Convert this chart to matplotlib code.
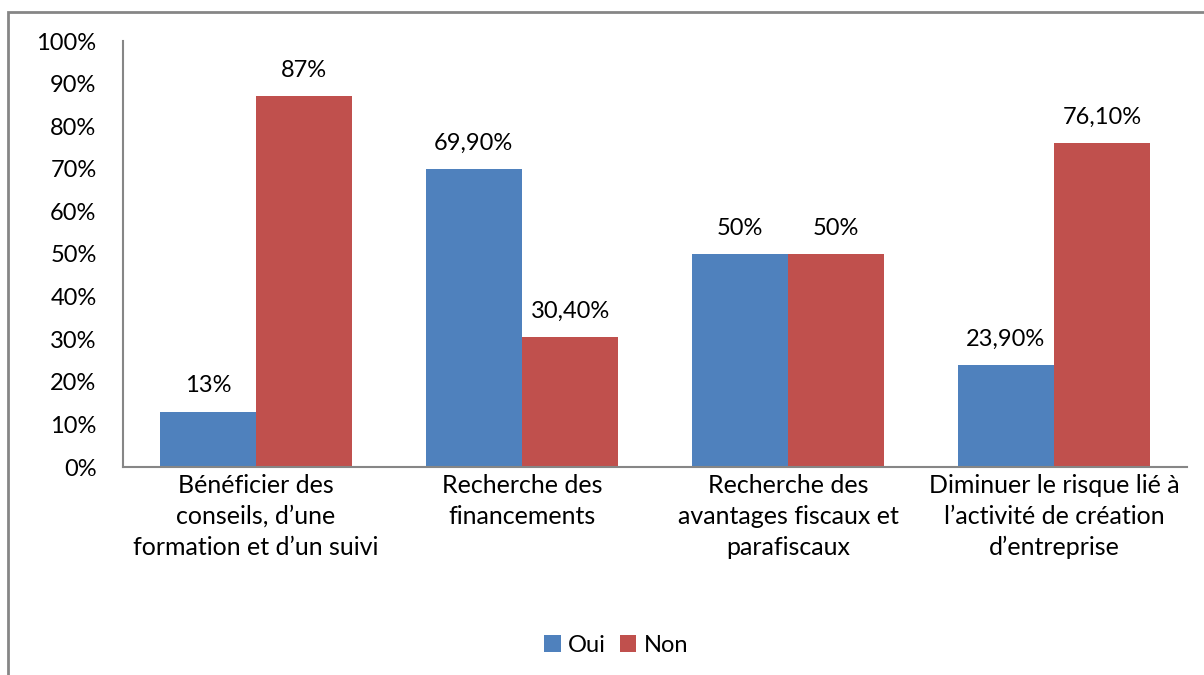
import matplotlib.pyplot as plt
import numpy as np
from matplotlib.patches import Rectangle

plt.rcParams['font.family'] = ['Lato', 'DejaVu Sans']

categories = ["Bénéficier des\nconseils, d\u2019une\nformation et d\u2019un suivi",
              "Recherche des\nfinancements",
              "Recherche des\navantages fiscaux et\nparafiscaux",
              "Diminuer le risque lié à\nl\u2019activité de création\nd\u2019entreprise"]
oui = [13, 69.9, 50, 23.9]
non = [87, 30.4, 50, 76.1]
oui_labels = ["13%", "69,90%", "50%", "23,90%"]
non_labels = ["87%", "30,40%", "50%", "76,10%"]

blue = "#4F81BD"
red = "#C0504D"
grey = "#868686"
fs = 17

fig = plt.figure(figsize=(12.04, 6.75), dpi=100)
# outer chart frame (only top and left edges visible in the reference)
fig.patches.append(Rectangle((8 / 1204, -0.1), 1.2, 1.1 - 12 / 675,
                             transform=fig.transFigure, fill=False,
                             edgecolor=grey, linewidth=2))

ax = fig.add_axes([123 / 1204, 1 - 467 / 675, 1064 / 1204, 426 / 675])
x = np.arange(len(categories))
w = 0.362
b1 = ax.bar(x - w / 2, oui, w, color=blue, label="Oui")
b2 = ax.bar(x + w / 2, non, w, color=red, label="Non")

for bars, labs in ((b1, oui_labels), (b2, non_labels)):
    for bar, lab in zip(bars, labs):
        ax.annotate(lab, (bar.get_x() + bar.get_width() / 2, bar.get_height()),
                    xytext=(0, 11), textcoords="offset points",
                    ha="center", va="bottom", fontsize=fs)

ax.set_xlim(-0.5, 3.5)
ax.set_ylim(0, 100)
ax.set_yticks(range(0, 101, 10))
ax.set_yticklabels([f"{v}%" for v in range(0, 101, 10)], fontsize=fs)
ax.set_xticks(x)
ax.set_xticklabels(categories, fontsize=18, linespacing=1.42)
ax.tick_params(axis="y", length=0, pad=19)
ax.tick_params(axis="x", length=0, pad=5)
for s in ("top", "right"):
    ax.spines[s].set_visible(False)
for s in ("left", "bottom"):
    ax.spines[s].set_color(grey)
    ax.spines[s].set_linewidth(1.5)

fig.legend(handles=[b1, b2], labels=["Oui", "Non"], loc="center",
           bbox_to_anchor=(616 / 1204, 1 - 645 / 675), ncol=2, frameon=False,
           fontsize=fs, handlelength=0.7, handleheight=0.7,
           handletextpad=0.3, columnspacing=0.6)

fig.savefig("out.png", dpi=100)
